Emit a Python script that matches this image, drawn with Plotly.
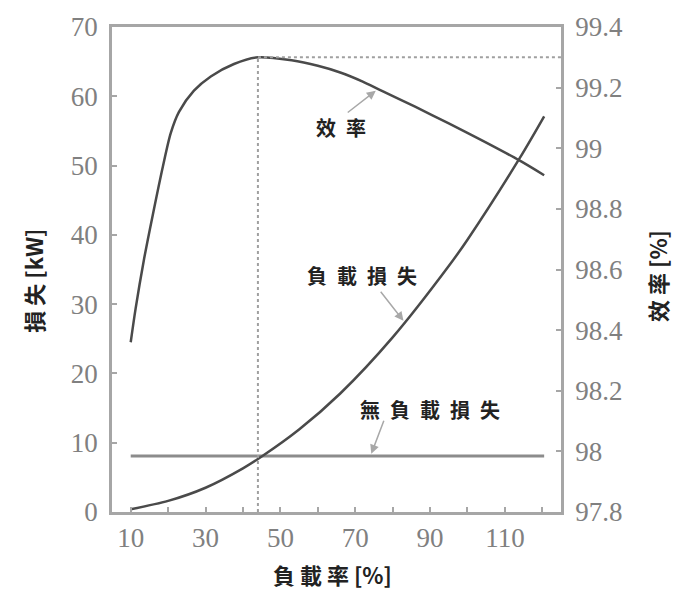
import plotly.graph_objects as go

# Load factor [%] and efficiency [%]
eff_load = [10, 11.3, 13.5, 15.9, 18.6, 20.7, 22.9, 26.9, 31.4, 37.6, 44, 53, 60, 66,
            72, 77, 86, 95, 104, 114, 120.5]
eff_val = [98.36, 98.47, 98.63, 98.78, 98.94, 99.05, 99.12, 99.19, 99.237, 99.278, 99.30,
           99.29, 99.272, 99.25, 99.22, 99.19, 99.137, 99.082, 99.025, 98.959, 98.911]

# Load-dependent loss [kW]
loss_load = [10, 20, 30, 40, 45, 55, 66, 80, 95, 100, 114, 120.5]
loss_val = [0.4, 1.6, 3.5, 6.3, 8.0, 11.9, 17.1, 25.2, 35.5, 39.3, 51.1, 57.1]

# No-load loss [kW]
noload_load = [10, 120.5]
noload_val = [8.1, 8.1]

peak_load = 44
peak_eff = 99.30

x_ticks = [10, 20, 30, 40, 50, 60, 70, 80, 90, 100, 110, 120]
x_ticktext = ["10", "", "30", "", "50", "", "70", "", "90", "", "110", ""]
y_ticks = [0, 10, 20, 30, 40, 50, 60, 70]
y2_ticks = [97.8, 98.0, 98.2, 98.4, 98.6, 98.8, 99.0, 99.2, 99.4]
y2_ticktext = ["97.8", "98", "98.2", "98.4", "98.6", "98.8", "99", "99.2", "99.4"]

AXIS = "#a6a6a6"
CURVE = "#4a4a4a"
TICKFONT = dict(family="Liberation Serif", size=27, color="#808080")
CJK = "Noto Sans CJK TC"
SP = "\u2002"

fig = go.Figure()
fig.add_trace(go.Scatter(x=noload_load, y=noload_val, mode="lines",
                         line=dict(color="#8c8c8c", width=3), showlegend=False))
fig.add_trace(go.Scatter(x=loss_load, y=loss_val, mode="lines",
                         line=dict(color=CURVE, width=2.5, shape="spline", smoothing=0.8),
                         showlegend=False))
fig.add_trace(go.Scatter(x=eff_load, y=eff_val, mode="lines", yaxis="y2",
                         line=dict(color=CURVE, width=2.5, shape="spline", smoothing=0.8),
                         showlegend=False))

# Dotted guides at the efficiency maximum
fig.add_shape(type="line", xref="x", yref="y2", x0=peak_load, x1=peak_load,
              y0=97.8, y1=peak_eff, line=dict(color="#a0a0a0", width=2, dash="dot"))
fig.add_shape(type="line", xref="x", yref="y2", x0=peak_load, x1=125,
              y0=peak_eff, y1=peak_eff, line=dict(color="#a0a0a0", width=2, dash="dot"))

def label(text, x, y, yref="y"):
    fig.add_annotation(x=x, y=y, xref="x", yref=yref, text="<b>" + text + "</b>",
                       showarrow=False, font=dict(family=CJK, size=20, color="#222222"))

def arrow(x, y, ax, ay, yref="y"):
    fig.add_annotation(x=x, y=y, ax=ax, ay=ay, xref="x", yref=yref, axref="x", ayref=yref,
                       text="", showarrow=True, arrowhead=2, arrowsize=1.2, arrowwidth=1.5,
                       arrowcolor="#a8a8a8")

label(SP.join("效率"), 66.3, 55.5)
arrow(75.5, 99.19, 67.6, 99.114, yref="y2")
label(SP.join("負載損失"), 71.7, 34.1)
arrow(82.9, 27.6, 76.5, 32.0)
label(SP.join("無負載損失"), 89.9, 14.8)
arrow(74.3, 8.4, 77.8, 13.4)

# Axis titles
def title(text, x, y, angle=0):
    fig.add_annotation(x=x, y=y, xref="paper", yref="paper", showarrow=False,
                       xanchor="center", yanchor="middle", textangle=angle,
                       text="<b>" + text + "</b>",
                       font=dict(family=CJK, size=22, color="#222222"))

title("負 載 率 [%]", 0.49, -0.128)
title("損 失 [kW]", -0.176, 0.477, -90)
title("效 率 [%]", 1.214, 0.487, -90)

fig.update_layout(
    width=681, height=594,
    margin=dict(l=112, r=120, t=19, b=82),
    paper_bgcolor="white", plot_bgcolor="white",
    xaxis=dict(range=[5, 125], tickvals=x_ticks, ticktext=x_ticktext,
               ticks="inside", ticklen=5, tickcolor=AXIS, tickwidth=1.5,
               showline=True, linecolor=AXIS, linewidth=2.5, mirror=True,
               showgrid=False, zeroline=False, tickfont=TICKFONT, ticklabelstandoff=0),
    yaxis=dict(range=[0, 70], tickvals=y_ticks,
               ticks="inside", ticklen=5, tickcolor=AXIS, tickwidth=1.5,
               showline=True, linecolor=AXIS, linewidth=2.5, mirror=True,
               showgrid=False, zeroline=False, tickfont=TICKFONT, ticklabelstandoff=6),
    yaxis2=dict(range=[97.8, 99.4], tickvals=y2_ticks, ticktext=y2_ticktext,
                overlaying="y", side="right",
                ticks="inside", ticklen=5, tickcolor=AXIS, tickwidth=1.5,
                showline=True, linecolor=AXIS, linewidth=2.5,
                showgrid=False, zeroline=False, tickfont=TICKFONT, ticklabelstandoff=6),
)

fig.write_html("out.html")
